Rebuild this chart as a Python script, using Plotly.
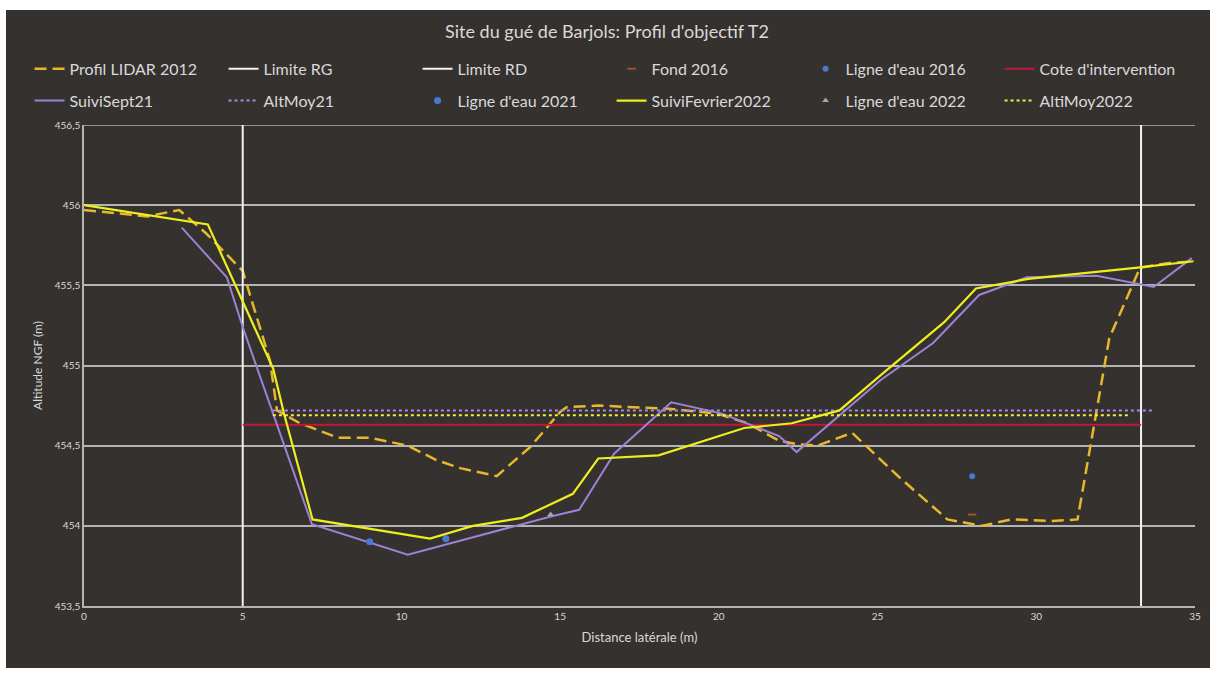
import plotly.graph_objects as go

# --- Profil LIDAR 2012 ---
lidar_x = [0, 2.0, 3.0, 3.87, 5.0, 5.86, 6.08, 6.8, 8.0, 9.0, 10.2, 11.1, 11.85, 13.0, 14.05,
           15.0, 15.2, 16.2, 18.45, 19.95, 20.9, 21.9, 22.45, 23.1, 24.2, 25.2, 25.7, 27.2,
           28.3, 29.2, 30.5, 31.3, 32.3, 33.27, 34.2, 35.0]
lidar_y = [455.97, 455.93, 455.97, 455.82, 455.59, 455.03, 454.72, 454.64, 454.55, 454.55, 454.50,
           454.41, 454.36, 454.31, 454.49, 454.71, 454.74, 454.75, 454.73, 454.70, 454.64, 454.53,
           454.51, 454.50, 454.58, 454.39, 454.30, 454.04, 454.00, 454.04, 454.03, 454.04, 455.17,
           455.61, 455.64, 455.65]

# --- Suivi septembre 2021 ---
sept21_x = [3.08, 4.5, 5.0, 7.18, 10.2, 14.74, 15.6, 16.7, 18.5, 20.1, 21.9, 22.45, 25.1,
            26.75, 28.2, 29.7, 31.9, 33.7, 34.9]
sept21_y = [455.86, 455.55, 455.24, 454.01, 453.82, 454.06, 454.10, 454.45, 454.77, 454.70,
            454.56, 454.46, 454.91, 455.14, 455.44, 455.55, 455.56, 455.49, 455.67]

# --- Suivi fevrier 2022 ---
fev22_x = [0, 3.9, 5.96, 6.3, 7.2, 10.9, 12.25, 13.8, 15.4, 16.2, 18.1, 20.8, 22.3, 23.8,
           25.1, 27.1, 28.1, 29.75, 33.2, 34.95]
fev22_y = [456.00, 455.88, 454.98, 454.70, 454.04, 453.92, 454.00, 454.05, 454.20, 454.42,
           454.44, 454.61, 454.64, 454.72, 454.94, 455.27, 455.48, 455.54, 455.61, 455.65]

# --- Limites de berge ---
limite_rg_x = [5.0, 5.0]
limite_rd_x = [33.3, 33.3]
limite_y = [453.5, 456.5]

# --- Niveaux de reference ---
cote_x = [5.0, 33.3]
cote_y = [454.63, 454.63]
altmoy21_x = [5.95, 33.65]
altmoy21_y = [454.72, 454.72]
altimoy22_x = [5.95, 32.9]
altimoy22_y = [454.69, 454.69]

# --- Points releves ---
fond16_x = [27.98]
fond16_y = [454.07]
eau16_x = [27.98]
eau16_y = [454.31]
eau21_x = [9.0, 11.4]
eau21_y = [453.90, 453.92]
eau22_x = [14.7]
eau22_y = [454.07]

y_ticks = [453.5, 454, 454.5, 455, 455.5, 456, 456.5]
x_ticks = [0, 5, 10, 15, 20, 25, 30, 35]

BG = "#35312f"
TXT = "#d9d9d9"
GRID = "#b4b4b4"
FONT = "Lato"

fig = go.Figure()

def line(x, y, name, color, width=2, dash="solid", legend="legend"):
    fig.add_trace(go.Scatter(x=x, y=y, name=name, mode="lines",
                             line=dict(color=color, width=width, dash=dash),
                             legend=legend))

def pts(x, y, name, color, symbol="circle", size=7, legend="legend", lw=0):
    fig.add_trace(go.Scatter(x=x, y=y, name=name, mode="markers",
                             marker=dict(color=color, symbol=symbol, size=size,
                                         line=dict(color=color, width=lw)),
                             legend=legend))

# first legend row
line(lidar_x, lidar_y, "Profil LIDAR 2012", "#e6b82e", 2.5, "12px,6px")
line(limite_rg_x, limite_y, "Limite RG", "#f2f2f2", 2)
line(limite_rd_x, limite_y, "Limite RD", "#f2f2f2", 2)
pts(fond16_x, fond16_y, "Fond 2016", "#a0522d", "line-ew", 6, lw=2)
pts(eau16_x, eau16_y, "Ligne d'eau 2016", "#4a78d0", "circle", 6)
line(cote_x, cote_y, "Cote d'intervention", "#c0163a", 2)

# second legend row
line(sept21_x, sept21_y, "SuiviSept21", "#9c82d4", 2, legend="legend2")
line(altmoy21_x, altmoy21_y, "AltMoy21", "#a58be0", 2, "dot", legend="legend2")
pts(eau21_x, eau21_y, "Ligne d'eau 2021", "#4a78d0", "circle", 7, legend="legend2")
line(fev22_x, fev22_y, "SuiviFevrier2022", "#eeee1e", 2.2, legend="legend2")
pts(eau22_x, eau22_y, "Ligne d'eau 2022", "#a6a6a6", "triangle-up", 6, legend="legend2")
line(altimoy22_x, altimoy22_y, "AltiMoy2022", "#f0f03c", 2, "dot", legend="legend2")

legend_common = dict(orientation="h", xanchor="left", yanchor="top",
                     entrywidth=149, entrywidthmode="pixels", itemwidth=30,
                     bgcolor="rgba(0,0,0,0)", font=dict(family=FONT, size=16, color=TXT),
                     itemclick=False)

fig.update_layout(
    width=1214, height=673,
    margin=dict(l=84, r=19, t=125, b=67),
    paper_bgcolor="white",
    plot_bgcolor=BG,
    separators=", ",
    font=dict(family=FONT, color=TXT),
    title=dict(text="Site du gué de Barjols: Profil d'objectif T2", x=0.5, xanchor="center",
               y=1 - 32 / 673, yanchor="middle", font=dict(family=FONT, size=18, color=TXT)),
    legend=dict(x=-0.049, y=1.152, **legend_common),
    legend2=dict(x=-0.049, y=1.086, **legend_common),
    shapes=[dict(type="rect", xref="paper", yref="paper", layer="below",
                 x0=(6 - 84) / 1111, x1=(1210 - 84) / 1111,
                 y0=(606 - 668) / 481, y1=(606 - 10) / 481,
                 fillcolor=BG, line=dict(width=0)),
            # top gridline at the upper bound of the axis
            dict(type="line", xref="x", yref="y", layer="below",
                 x0=0, x1=35, y0=456.5, y1=456.5,
                 line=dict(color=GRID, width=1.5))],
)

fig.update_xaxes(range=[0, 35], tickvals=x_ticks, showgrid=False, zeroline=False,
                 showline=True, linecolor=GRID, linewidth=1.5, ticks="",
                 tickfont=dict(family=FONT, size=10, color=TXT),
                 title=dict(text="Distance latérale (m)", font=dict(family=FONT, size=13, color=TXT),
                            standoff=12))
fig.update_yaxes(range=[453.5, 456.5], tickvals=y_ticks, showgrid=True, gridcolor=GRID,
                 gridwidth=1.5, zeroline=False, showline=True, linecolor=GRID, linewidth=1.5,
                 ticks="", tickfont=dict(family=FONT, size=10, color=TXT),
                 title=dict(text="Altitude NGF (m)", font=dict(family=FONT, size=12, color=TXT),
                            standoff=10))

fig.write_html("out.html")
